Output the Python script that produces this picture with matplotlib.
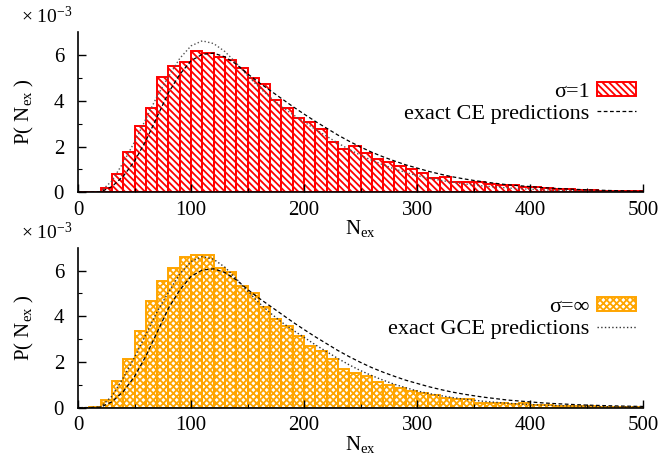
import numpy as np
import matplotlib
matplotlib.use('Agg')
import matplotlib.pyplot as plt

# histogram bins (left edges), width 10
bin_left = np.arange(0, 500, 10)
bin_width = 10

# P(N_ex) in units of 1e-3, sigma=1 sample
hist_sigma1 = [0.0, 0.03, 0.2, 0.82, 1.75, 2.91, 3.70, 5.05, 5.5, 5.68,
               6.19, 6.07, 5.9, 5.77, 5.42, 4.98, 4.75, 4.03, 3.67, 3.23,
               3.06, 2.75, 2.21, 1.88, 2.04, 1.73, 1.47, 1.31, 1.15, 1.03,
               0.83, 0.64, 0.68, 0.47, 0.44, 0.45, 0.38, 0.32, 0.31, 0.22,
               0.22, 0.19, 0.16, 0.15, 0.12, 0.12, 0.07, 0.07, 0.06, 0.06]

# sigma=infinity sample
hist_sigmainf = [0.0, 0.02, 0.34, 1.17, 2.12, 3.37, 4.66, 5.55, 6.13, 6.58,
                 6.70, 6.67, 6.10, 5.96, 5.33, 5.0, 4.41, 3.87, 3.58, 3.14,
                 2.70, 2.48, 2.14, 1.68, 1.50, 1.39, 1.12, 0.98, 0.85, 0.74,
                 0.66, 0.55, 0.44, 0.39, 0.36, 0.19, 0.22, 0.18, 0.15, 0.19,
                 0.10, 0.10, 0.09, 0.07, 0.06, 0.06, 0.04, 0.04, 0.03, 0.03]

# exact predictions
n_curve = np.arange(0, 510, 10)
ce_pred = [0.0, 0.0, 0.02, 0.25, 0.7, 1.36, 2.25, 3.3, 4.35, 5.15,
           5.75, 6.03, 6.08, 5.92, 5.6, 5.18, 4.8, 4.45, 4.1, 3.75,
           3.42, 3.1, 2.8, 2.5, 2.23, 1.98, 1.75, 1.55, 1.37, 1.2,
           1.06, 0.92, 0.8, 0.69, 0.6, 0.52, 0.45, 0.39, 0.33, 0.29,
           0.25, 0.21, 0.18, 0.155, 0.13, 0.11, 0.095, 0.08, 0.068, 0.058, 0.05]
gce_pred = [0.0, 0.0, 0.03, 0.5, 1.3, 2.2, 3.2, 4.2, 5.05, 5.85,
            6.4, 6.62, 6.5, 6.15, 5.65, 5.1, 4.6, 4.15, 3.75, 3.4,
            3.08, 2.75, 2.45, 2.15, 1.87, 1.62, 1.4, 1.2, 1.02, 0.87,
            0.73, 0.62, 0.53, 0.45, 0.38, 0.32, 0.27, 0.23, 0.19, 0.16,
            0.135, 0.11, 0.095, 0.08, 0.066, 0.055, 0.046, 0.038, 0.032, 0.027, 0.022]

plt.rcParams['font.family'] = 'Liberation Serif'
plt.rcParams['mathtext.fontset'] = 'custom'
plt.rcParams['mathtext.rm'] = 'Liberation Serif'
plt.rcParams['mathtext.it'] = 'Liberation Serif:italic'
plt.rcParams['hatch.linewidth'] = 1.3

fig = plt.figure(figsize=(6.61, 4.59), dpi=100)
ax1 = fig.add_axes([0.118, 0.581, 0.855, 0.349])
ax2 = fig.add_axes([0.118, 0.112, 0.855, 0.348])


def style_axes(ax):
    ax.set_xlim(0, 500)
    ax.set_ylim(0, 7)
    for s in ['top', 'right']:
        ax.spines[s].set_visible(False)
    for s in ['left', 'bottom']:
        ax.spines[s].set_linewidth(1.2)
    ax.set_xticks([0, 100, 200, 300, 400, 500])
    ax.set_xticks(np.arange(50, 500, 100), minor=True)
    ax.set_yticks([0, 2, 4, 6])
    ax.set_yticks([1, 3, 5], minor=True)
    ax.tick_params(direction='in', labelsize=15, length=6, width=1)
    ax.tick_params(which='minor', direction='in', length=3, width=0.8)
    ax.tick_params(axis='x', pad=6)
    ax.tick_params(axis='y', pad=10)
    ax.set_xlabel(r'N$_{\mathrm{ex}}$', fontsize=15, labelpad=-1)
    ax.set_ylabel(r'P( N$_{\mathrm{ex}}$ )', fontsize=15, labelpad=13)
    ax.text(-0.1, 1.03, r'× 10$^{-3}$', transform=ax.transAxes, fontsize=14,
            ha='left', va='bottom')


def add_legend(ax, handles):
    ax.legend(handles=handles, loc='upper right', bbox_to_anchor=(0.988, 0.69),
              frameon=False, markerfirst=False, fontsize=16, handlelength=1.75,
              handleheight=0.6, labelspacing=0.1, borderpad=0,
              borderaxespad=0, handletextpad=0.35)


# sigma = 1 with CE prediction
bars1 = ax1.bar(bin_left, hist_sigma1, width=bin_width, align='edge',
                facecolor='white', edgecolor='red', linewidth=1.4,
                hatch='\\\\\\\\\\', label='σ=1')
ax1.plot(n_curve, gce_pred, color='#555555', linestyle=':', linewidth=1.0)
ce_line, = ax1.plot(n_curve, ce_pred, color='black', linestyle=(0, (3, 2)),
                    linewidth=0.9, label='exact CE predictions')
style_axes(ax1)
add_legend(ax1, [bars1, ce_line])

# sigma = infinity with GCE prediction
bars2 = ax2.bar(bin_left, hist_sigmainf, width=bin_width, align='edge',
                facecolor='white', edgecolor='orange', linewidth=1.4,
                hatch='xxxxx', label='σ=∞')
ax2.plot(n_curve, ce_pred, color='black', linestyle=(0, (3, 2)), linewidth=0.9)
gce_line, = ax2.plot(n_curve, gce_pred, color='#333333', linestyle=':',
                     linewidth=1.0, label='exact GCE predictions')
style_axes(ax2)
add_legend(ax2, [bars2, gce_line])

fig.savefig('out.png', dpi=100)
